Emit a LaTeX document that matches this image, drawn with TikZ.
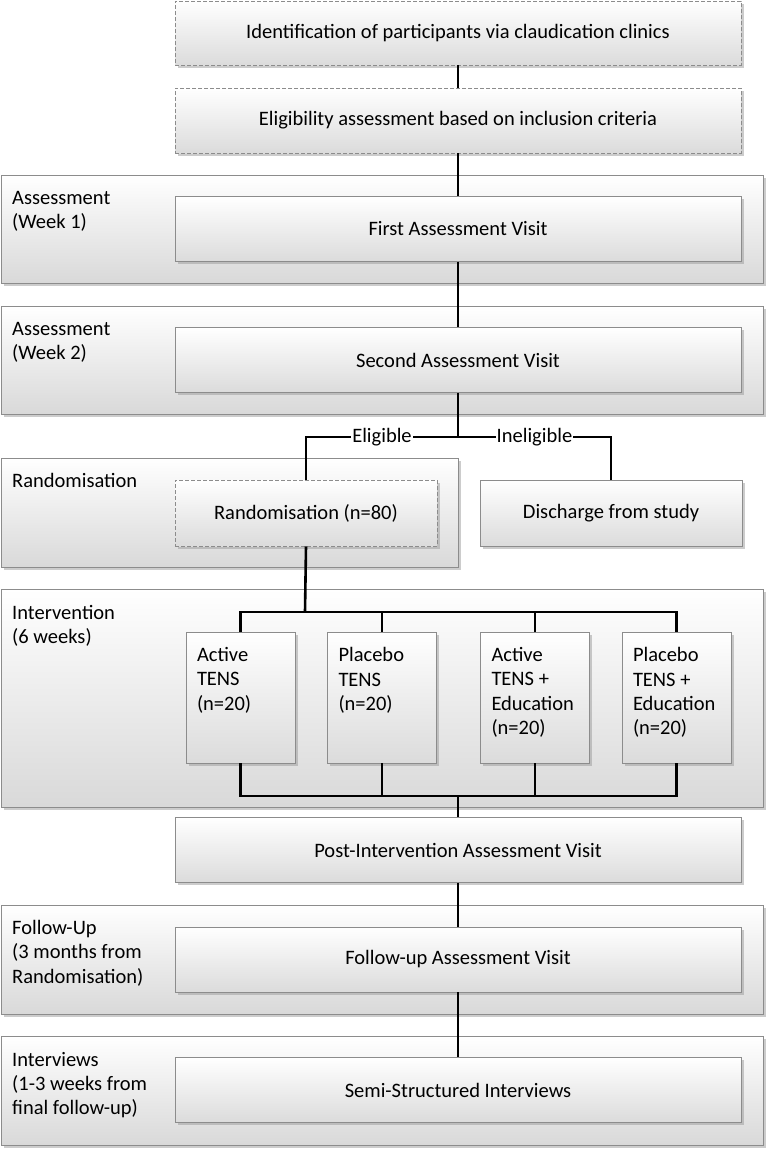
\documentclass[tikz,border=0pt]{standalone}
\usepackage{fontspec}
\setmainfont{Carlito}
\usetikzlibrary{shadows}
\newcommand{\fs}{\fontsize{20.5}{24.3}\selectfont}
\newcommand{\armtext}[1]{\parbox[c][131pt][t]{87pt}{\raggedright\vspace*{15.5pt}#1}}
\tikzset{
  shad/.style={drop shadow={shadow xshift=2.5pt, shadow yshift=-2.5pt, fill=gray!80, opacity=0.5}},
  band/.style={draw=gray!90, line width=1pt, top color=white, bottom color=gray!30, shad, minimum width=762pt, minimum height=108pt, inner sep=0pt},
  box/.style={draw=gray!90, line width=0.9pt, top color=white, bottom color=gray!28, shad, minimum width=566pt, minimum height=65pt, inner sep=0pt, font=\fs},
  dbox/.style={box, dash pattern=on 4pt off 2pt},
  armbox/.style={box, minimum width=109pt, minimum height=131pt},
  link/.style={line width=2.6pt, black},
  lab/.style={fill=white, inner sep=1pt, font=\fs},
  bandlbl/.style={anchor=north west, align=left, inner sep=0pt, font=\fs}
}
\begin{document}
\begin{tikzpicture}[x=1pt, y=-1pt]
\useasboundingbox (0,0) rectangle (768,1149);
% bands
\node[band] (bd1) at (382,229) {};
\node[band] (bd2) at (382,360) {};
\node[band, minimum width=457pt, minimum height=109pt] (bd3) at (229.5,512.5) {};
\node[band, minimum height=218pt] (bd4) at (382,698) {};
\node[band, minimum height=109pt] (bd5) at (382,959.5) {};
\node[band, minimum height=109pt] (bd6) at (382,1090.5) {};
% band labels
\node[bandlbl] (l1) at (12,191) {Assessment\\(Week 1)};
\node[bandlbl] (l2) at (12,322) {Assessment\\(Week 2)};
\node[bandlbl] (l3) at (12,473) {Randomisation};
\node[bandlbl] (l4) at (12,605) {Intervention\\(6 weeks)};
\node[bandlbl] (l5) at (12,920) {Follow-Up\\(3 months from\\Randomisation)};
\node[bandlbl] (l6) at (12,1052) {Interviews\\(1-3 weeks from\\final follow-up)};
% boxes
\node[dbox, minimum height=64pt] (n1) at (458,33) {Identification of participants via claudication clinics};
\node[dbox] (n2) at (458,120.5) {Eligibility assessment based on inclusion criteria};
\node[box] (v1) at (458,229) {First Assessment Visit};
\node[box] (v2) at (458,360) {Second Assessment Visit};
\node[dbox, minimum width=262pt, minimum height=66pt] (rand) at (306,513) {Randomisation (n=80)};
\node[box, minimum width=262pt, minimum height=66pt] (dis) at (611,513) {Discharge from study};
\node[armbox] (a1) at (240.5,697.5) {\armtext{Active\\TENS\\(n=20)}};
\node[armbox] (a2) at (382,697.5) {\armtext{Placebo\\TENS\\(n=20)}};
\node[armbox] (a3) at (535,697.5) {\armtext{Active\\TENS +\\Education\\(n=20)}};
\node[armbox] (a4) at (676.5,697.5) {\armtext{Placebo\\TENS +\\Education\\(n=20)}};
\node[box] (post) at (458,850) {Post-Intervention Assessment Visit};
\node[box] (fu) at (458,959.5) {Follow-up Assessment Visit};
\node[box] (iv) at (458,1090) {Semi-Structured Interviews};
% coordinates
\coordinate (sp) at (458,437);
\coordinate (top) at (305,612);
\coordinate (bot) at (458,796);
% links
\draw[link] (n1.south) -- (n2.north);
\draw[link] (n2.south) -- (v1.north);
\draw[link] (v1.south) -- (v2.north);
\draw[link] (v2.south) -- (sp);
\draw[link] (sp) -| node[pos=0.25, lab] {Eligible} (rand.north);
\draw[link] (sp) -| node[pos=0.25, lab] {Ineligible} (dis.north);
\draw[link] (rand.south) -- (top);
\draw[link] (a1.north) |- (top) -| (a4.north);
\draw[link] (a2.north) -- (a2.north |- top);
\draw[link] (a3.north) -- (a3.north |- top);
\draw[link] (a1.south) |- (bot) -| (a4.south);
\draw[link] (a2.south) -- (a2.south |- bot);
\draw[link] (a3.south) -- (a3.south |- bot);
\draw[link] (bot) -- (post.north);
\draw[link] (post.south) -- (fu.north);
\draw[link] (fu.south) -- (iv.north);
\end{tikzpicture}
\end{document}
